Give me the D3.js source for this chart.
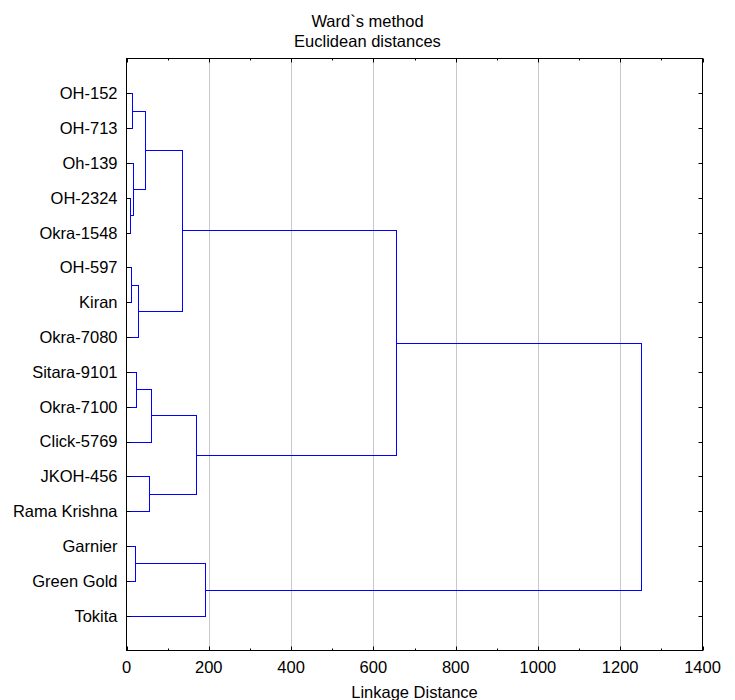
<!DOCTYPE html>
<html>
<head>
<meta charset="utf-8">
<script src="https://cdn.jsdelivr.net/npm/d3@7"></script>
<style>
  body { margin: 0; background: #fff; }
  text { font-family: "Liberation Sans", Arial, sans-serif; fill: #000; }
</style>
</head>
<body>
<div id="chart"></div>
<script>
// leaf labels, top to bottom
const leaves = ['OH-152', 'OH-713', 'Oh-139', 'OH-2324', 'Okra-1548', 'OH-597', 'Kiran', 'Okra-7080',
  'Sitara-9101', 'Okra-7100', 'Click-5769', 'JKOH-456', 'Rama Krishna', 'Garnier', 'Green Gold', 'Tokita'];

// merges: [nodeA, nodeB, linkage distance]; new node ids start after the leaves
const mergeA = [3, 5, 0, 2, 13, 8, 17, 18, 11, 21, 23, 25, 20, 26, 29];
const mergeB = [4, 6, 1, 16, 14, 9, 7, 19, 12, 10, 22, 24, 15, 27, 28];
const mergeDist = [9.7, 10.5, 13.6, 16, 20, 22.6, 27.5, 43.8, 55, 59, 134.5, 168.5, 190, 654, 1250];

const xTicks = [0, 200, 400, 600, 800, 1000, 1200, 1400];
const xMinor = [100, 300, 500, 700, 900, 1100, 1300];

const width = 735, height = 700;
const margin = { top: 58.5, right: 32.5, bottom: 49.5, left: 126.5 };
const fontSize = 16.5;

const svg = d3.select('#chart').append('svg')
  .attr('width', width)
  .attr('height', height);

const x = d3.scaleLinear().domain([0, 1400]).range([margin.left, width - margin.right]);
const y = d3.scalePoint().domain(d3.range(leaves.length)).range([margin.top, height - margin.bottom]).padding(1);

const x0 = margin.left, x1 = width - margin.right;
const y0 = margin.top, y1 = height - margin.bottom;
const px = v => Math.round(v) + 0.5;

// gridlines
svg.append('g').selectAll('line')
  .data(xTicks.slice(1, -1))
  .enter().append('line')
  .attr('x1', d => px(x(d))).attr('x2', d => px(x(d)))
  .attr('y1', y0).attr('y2', y1)
  .attr('stroke', '#c8c8c8').attr('stroke-width', 1);

// node positions
const nodeY = leaves.map((d, i) => y(i));
const nodeH = leaves.map(() => 0);
mergeA.forEach((a, i) => {
  const b = mergeB[i];
  nodeY.push((nodeY[a] + nodeY[b]) / 2);
  nodeH.push(mergeDist[i]);
});

// each merge: two horizontal arms and one vertical bar
const segs = [];
mergeA.forEach((a, i) => {
  const b = mergeB[i], h = mergeDist[i];
  segs.push([x(nodeH[a]), nodeY[a], x(h), nodeY[a]]);
  segs.push([x(nodeH[b]), nodeY[b], x(h), nodeY[b]]);
  segs.push([x(h), nodeY[a], x(h), nodeY[b]]);
});

svg.append('g')
  .attr('shape-rendering', 'crispEdges')
  .selectAll('line')
  .data(segs)
  .enter().append('line')
  .attr('x1', d => px(d[0])).attr('y1', d => px(d[1]))
  .attr('x2', d => px(d[2])).attr('y2', d => px(d[3]))
  .attr('stroke', 'rgb(0,0,255)')
  .attr('stroke-width', 1);

// frame
svg.append('rect')
  .attr('x', x0).attr('y', y0)
  .attr('width', x1 - x0).attr('height', y1 - y0)
  .attr('fill', 'none').attr('stroke', '#000').attr('stroke-width', 1);

// inward ticks
const ticks = svg.append('g').attr('stroke', '#000').attr('stroke-width', 1);
xTicks.forEach(d => {
  const p = px(x(d));
  ticks.append('line').attr('x1', p).attr('x2', p).attr('y1', y1).attr('y2', y1 - 4);
  ticks.append('line').attr('x1', p).attr('x2', p).attr('y1', y0).attr('y2', y0 + 4);
});
xMinor.forEach(d => {
  const p = px(x(d));
  ticks.append('line').attr('x1', p).attr('x2', p).attr('y1', y1).attr('y2', y1 - 2);
  ticks.append('line').attr('x1', p).attr('x2', p).attr('y1', y0).attr('y2', y0 + 2);
});
leaves.forEach((d, i) => {
  const p = px(y(i));
  ticks.append('line').attr('x1', x0).attr('x2', x0 + 4).attr('y1', p).attr('y2', p);
  ticks.append('line').attr('x1', x1).attr('x2', x1 - 4).attr('y1', p).attr('y2', p);
});

// leaf labels
svg.append('g').selectAll('text')
  .data(leaves)
  .enter().append('text')
  .attr('x', x0 - 9)
  .attr('y', (d, i) => y(i))
  .attr('dy', '0.36em')
  .attr('text-anchor', 'end')
  .attr('font-size', fontSize)
  .text(d => d);

// x tick labels
svg.append('g').selectAll('text')
  .data(xTicks)
  .enter().append('text')
  .attr('x', d => x(d))
  .attr('y', 673)
  .attr('text-anchor', 'middle')
  .attr('font-size', fontSize)
  .text(d => d);

// titles
svg.append('text').attr('x', width / 2).attr('y', 26.5)
  .attr('text-anchor', 'middle').attr('font-size', fontSize).text('Ward`s method');
svg.append('text').attr('x', width / 2).attr('y', 46.5)
  .attr('text-anchor', 'middle').attr('font-size', fontSize).text('Euclidean distances');
svg.append('text').attr('x', (x0 + x1) / 2).attr('y', 697.5)
  .attr('text-anchor', 'middle').attr('font-size', fontSize).text('Linkage Distance');
</script>
</body>
</html>
